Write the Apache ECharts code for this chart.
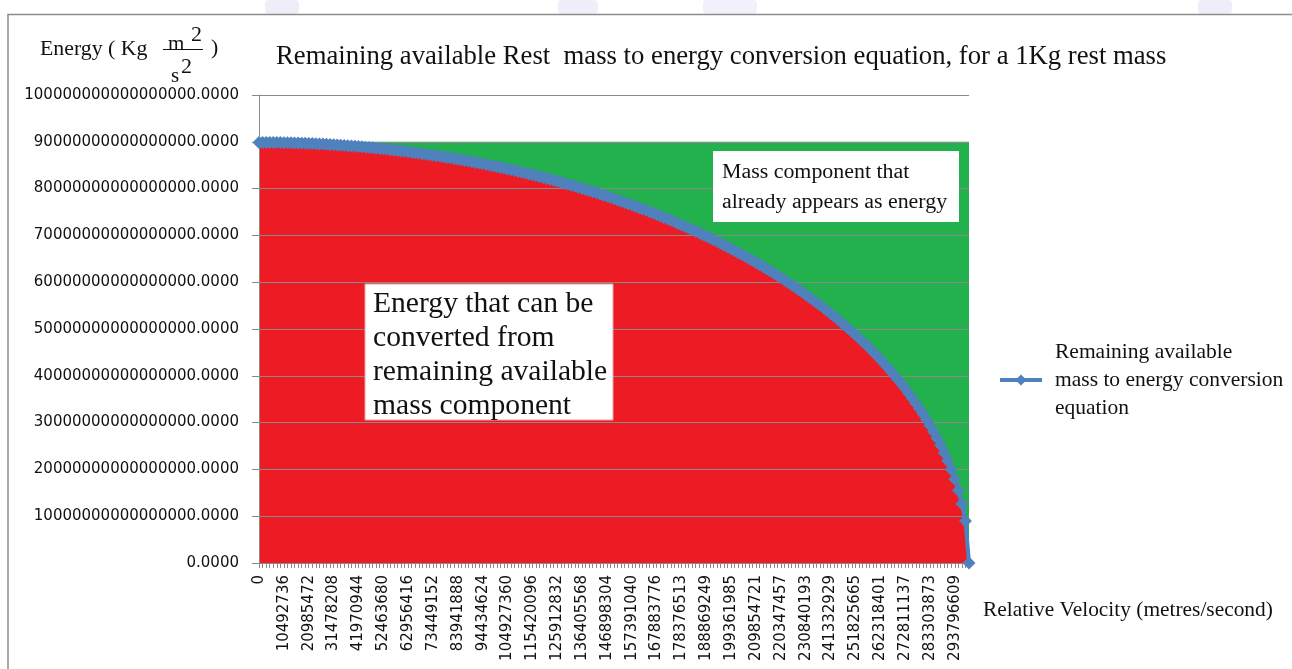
<!DOCTYPE html>
<html><head><meta charset="utf-8">
<script src="https://cdn.jsdelivr.net/npm/echarts@6/dist/echarts.min.js"></script>
<style>html,body{margin:0;padding:0;background:#fff}#c{width:1292px;height:669px}</style>
</head><body><div id="c"></div>
<script>
// Relative velocity categories (metres/second)
const velocities = [0,1498962,2997925,4496887,5995849,7494811,8993774,10492736,11991698,13490661,
14989623,16488585,17987547,19486510,20985472,22484434,23983397,25482359,26981321,28480283,
29979246,31478208,32977170,34476133,35975095,37474057,38973020,40471982,41970944,43469906,
44968869,46467831,47966793,49465756,50964718,52463680,53962642,55461605,56960567,58459529,
59958492,61457454,62956416,64455378,65954341,67453303,68952265,70451228,71950190,73449152,
74948115,76447077,77946039,79445001,80943964,82442926,83941888,85440851,86939813,88438775,
89937737,91436700,92935662,94434624,95933587,97432549,98931511,100430473,101929436,103428398,
104927360,106426323,107925285,109424247,110923209,112422172,113921134,115420096,116919059,118418021,
119916983,121415945,122914908,124413870,125912832,127411795,128910757,130409719,131908682,133407644,
134906606,136405568,137904531,139403493,140902455,142401418,143900380,145399342,146898304,148397267,
149896229,151395191,152894154,154393116,155892078,157391040,158890003,160388965,161887927,163386890,
164885852,166384814,167883776,169382739,170881701,172380663,173879626,175378588,176877550,178376513,
179875475,181374437,182873399,184372362,185871324,187370286,188869249,190368211,191867173,193366135,
194865098,196364060,197863022,199361985,200860947,202359909,203858871,205357834,206856796,208355758,
209854721,211353683,212852645,214351607,215850570,217349532,218848494,220347457,221846419,223345381,
224844344,226343306,227842268,229341230,230840193,232339155,233838117,235337080,236836042,238335004,
239833966,241332929,242831891,244330853,245829816,247328778,248827740,250326702,251825665,253324627,
254823589,256322552,257821514,259320476,260819438,262318401,263817363,265316325,266815288,268314250,
269813212,271312174,272811137,274310099,275809061,277308024,278806986,280305948,281804911,283303873,
284802835,286301797,287800760,289299722,290798684,292297647,293796609,295295571,296794533,298293496,
299792458];

// Remaining available energy, in units of 1e16 kg m^2/s^2
const energyE16 = [8.9876,8.9875,8.9872,8.9865,8.9858,8.9847,8.9835,8.9820,8.9803,8.9784,
8.9763,8.9739,8.9714,8.9685,8.9655,8.9622,8.9587,8.9550,8.9511,8.9469,
8.9425,8.9379,8.9330,8.9279,8.9226,8.9171,8.9113,8.9053,8.8990,8.8926,
8.8859,8.8789,8.8718,8.8643,8.8567,8.8489,8.8407,8.8324,8.8238,8.8150,
8.8060,8.7967,8.7872,8.7774,8.7674,8.7571,8.7466,8.7359,8.7249,8.7136,
8.7022,8.6904,8.6785,8.6662,8.6538,8.6410,8.6280,8.6148,8.6013,8.5876,
8.5736,8.5593,8.5448,8.5300,8.5150,8.4997,8.4841,8.4682,8.4521,8.4357,
8.4191,8.4022,8.3850,8.3675,8.3497,8.3317,8.3134,8.2948,8.2759,8.2567,
8.2372,8.2175,8.1974,8.1771,8.1564,8.1355,8.1142,8.0927,8.0708,8.0486,
8.0261,8.0033,7.9802,7.9568,7.9330,7.9089,7.8845,7.8597,7.8346,7.8092,
7.7835,7.7573,7.7309,7.7040,7.6769,7.6493,7.6214,7.5932,7.5645,7.5355,
7.5061,7.4763,7.4461,7.4155,7.3846,7.3532,7.3214,7.2892,7.2566,7.2235,
7.1900,7.1561,7.1217,7.0869,7.0517,7.0159,6.9797,6.9430,6.9058,6.8681,
6.8300,6.7913,6.7520,6.7123,6.6720,6.6312,6.5898,6.5478,6.5053,6.4621,
6.4184,6.3740,6.3291,6.2834,6.2371,6.1902,6.1425,6.0942,6.0451,5.9953,
5.9447,5.8934,5.8412,5.7883,5.7345,5.6798,5.6242,5.5678,5.5103,5.4519,
5.3925,5.3321,5.2706,5.2079,5.1441,5.0792,5.0129,4.9454,4.8765,4.8062,
4.7345,4.6612,4.5863,4.5097,4.4313,4.3511,4.2689,4.1845,4.0980,4.0090,
3.9176,3.8234,3.7263,3.6261,3.5224,3.4150,3.3035,3.1874,3.0663,2.9396,
2.8064,2.6658,2.5165,2.3570,2.1849,1.9971,1.7885,1.5508,1.2678,0.8976,
0];

const yTickLabels = ["0.0000","10000000000000000.0000","20000000000000000.0000","30000000000000000.0000",
"40000000000000000.0000","50000000000000000.0000","60000000000000000.0000","70000000000000000.0000",
"80000000000000000.0000","90000000000000000.0000","100000000000000000.0000"];

const totalRestEnergyE16 = 9;   // top of the green "already energy" region
const seriesName = 'Remaining available mass to energy conversion equation';
const legendLines = ['Remaining available', 'mass to energy conversion', 'equation'];
const titleText = 'Remaining available Rest  mass to energy conversion equation, for a 1Kg rest mass';
const xAxisName = 'Relative Velocity (metres/second)';
const noteTop = ['Mass component that', 'already appears as energy'];
const noteMain = ['Energy that can be', 'converted from', 'remaining available', 'mass component'];

const SERIF = '"Liberation Serif","Times New Roman",serif';
const SANS = '"DejaVu Sans",Verdana,sans-serif';
const GRID = '#8a8a8a';

const chart = echarts.init(document.getElementById('c'), null, {renderer: 'canvas'});

const option = {
  animation: false,
  backgroundColor: '#ffffff',
  grid: {left: 259, right: 323, top: 95, bottom: 106, containLabel: false},
  xAxis: {
    type: 'category',
    data: velocities,
    boundaryGap: false,
    axisLine: {lineStyle: {color: GRID, width: 1}},
    axisTick: {show: true, interval: 0, length: 5, lineStyle: {color: GRID}},
    axisLabel: {interval: 6, rotate: 90, margin: 12, fontFamily: SANS, fontSize: 15, color: '#111'},
    splitLine: {show: false}
  },
  yAxis: {
    type: 'value',
    min: 0, max: 10, interval: 1,
    axisLine: {show: true, lineStyle: {color: GRID, width: 1}},
    axisTick: {show: true, length: 7, lineStyle: {color: GRID}},
    axisLabel: {margin: 20, fontFamily: SANS, fontSize: 15, color: '#111',
      formatter: function (v) { return yTickLabels[Math.round(v)]; }},
    splitLine: {show: true, lineStyle: {color: GRID, width: 1}}
  },
  legend: {
    data: [seriesName],
    left: 993, top: 333,
    orient: 'vertical',
    itemWidth: 42, itemHeight: 14,
    itemGap: 0,
    lineStyle: {width: 4},
    formatter: function () { return legendLines.join('\n'); },
    textStyle: {fontFamily: SERIF, fontSize: 21.5, color: '#111', lineHeight: 28, padding: [0, 0, 0, 8]},
    selectedMode: false
  },
  series: [
    {
      name: 'already-energy', type: 'line', data: [], z: -3, silent: true,
      markArea: {
        silent: true, z: -3,
        itemStyle: {color: '#22B14C', opacity: 1},
        data: [[{xAxis: 0, yAxis: 0}, {xAxis: velocities.length - 1, yAxis: totalRestEnergyE16}]]
      }
    },
    {
      name: 'remaining-area', type: 'line', data: energyE16, z: -1, silent: true,
      symbol: 'none', lineStyle: {width: 0, opacity: 0},
      areaStyle: {color: '#ED1C24', opacity: 1}
    },
    {
      name: seriesName, type: 'line', data: energyE16, z: 3,
      symbol: 'diamond', symbolSize: 13, showAllSymbol: true,
      itemStyle: {color: '#4F81BD'},
      lineStyle: {color: '#4F81BD', width: 4}
    }
  ],
  graphic: [
    // faint watermark shapes above the chart frame
    {type: 'rect', z: 1, shape: {x: 265, y: 0, width: 34, height: 14, r: 4}, style: {fill: '#efedfa'}},
    {type: 'rect', z: 1, shape: {x: 558, y: 0, width: 40, height: 14, r: 4}, style: {fill: '#f0eefb'}},
    {type: 'rect', z: 1, shape: {x: 703, y: 0, width: 54, height: 14, r: 4}, style: {fill: '#f2f1fb'}},
    {type: 'rect', z: 1, shape: {x: 1198, y: 0, width: 34, height: 14, r: 4}, style: {fill: '#efedfa'}},
    {type: 'polyline', z: 50, shape: {points: [[8, 669], [8, 14.5], [1292, 14.5]]},
     style: {stroke: '#8c8c8c', lineWidth: 1.5, fill: null}},
    // chart title
    {type: 'text', z: 50, x: 276, y: 57,
     style: {text: titleText, font: '26.7px ' + SERIF, fill: '#111', verticalAlign: 'middle'}},
    // y axis name with fraction
    {type: 'text', z: 50, x: 40, y: 49,
     style: {text: 'Energy ( Kg', font: '21.8px ' + SERIF, fill: '#111', verticalAlign: 'middle'}},
    {type: 'text', z: 50, x: 168, y: 44,
     style: {text: 'm', font: '21px ' + SERIF, fill: '#111', verticalAlign: 'middle'}},
    {type: 'text', z: 50, x: 191, y: 35,
     style: {text: '2', font: '22px ' + SERIF, fill: '#111', verticalAlign: 'middle'}},
    {type: 'line', z: 50, shape: {x1: 163, y1: 49.5, x2: 203, y2: 49.5},
     style: {stroke: '#111', lineWidth: 1.2}},
    {type: 'text', z: 50, x: 171, y: 76,
     style: {text: 's', font: '21px ' + SERIF, fill: '#111', verticalAlign: 'middle'}},
    {type: 'text', z: 50, x: 181, y: 67,
     style: {text: '2', font: '22px ' + SERIF, fill: '#111', verticalAlign: 'middle'}},
    {type: 'text', z: 50, x: 211, y: 48,
     style: {text: ')', font: '21.8px ' + SERIF, fill: '#111', verticalAlign: 'middle'}},
    // x axis name
    {type: 'text', z: 50, x: 983, y: 610,
     style: {text: xAxisName, font: '21.4px ' + SERIF, fill: '#111', verticalAlign: 'middle'}},
    // annotation in green region
    {type: 'rect', z: 60, shape: {x: 713, y: 151, width: 246, height: 71},
     style: {fill: '#ffffff', stroke: null}},
    {type: 'text', z: 61, x: 722, y: 157,
     style: {text: noteTop.join('\n'), font: '21.9px ' + SERIF, fill: '#111', lineHeight: 30, verticalAlign: 'top'}},
    // annotation in red region
    {type: 'rect', z: 60, shape: {x: 365, y: 284, width: 248, height: 136},
     style: {fill: '#ffffff', stroke: '#f3a0a3', lineWidth: 1}},
    {type: 'text', z: 61, x: 373, y: 287,
     style: {text: noteMain.join('\n'), font: '29.6px ' + SERIF, fill: '#111', lineHeight: 34, verticalAlign: 'top'}}
  ]
};
chart.setOption(option);
</script>
</body></html>
